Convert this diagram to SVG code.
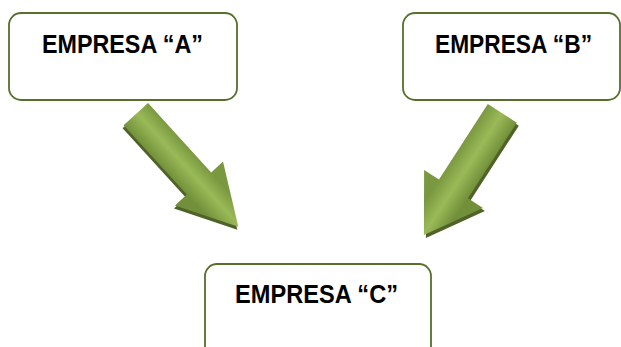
<svg xmlns="http://www.w3.org/2000/svg" width="621" height="347" viewBox="0 0 621 347">
<style>
.box{fill:#ffffff;stroke:#56702c;stroke-width:1.8}
.lbl{font-family:"Liberation Sans",Arial,sans-serif;font-weight:bold;font-size:25px;fill:#000000;text-anchor:middle}
.shadow{fill:#4f6228}
</style>
<defs>
<linearGradient id="gA" gradientUnits="userSpaceOnUse" x1="123.6" y1="125.3" x2="148.0" y2="103.1">
<stop offset="0" stop-color="#72903a"/>
<stop offset="0.55" stop-color="#9aba58"/>
<stop offset="1" stop-color="#7a9840"/>
</linearGradient>
<linearGradient id="gB" gradientUnits="userSpaceOnUse" x1="487.8" y1="103.9" x2="516.8" y2="122.7">
<stop offset="0" stop-color="#7a9840"/>
<stop offset="0.5" stop-color="#9aba58"/>
<stop offset="1" stop-color="#72903a"/>
</linearGradient>
</defs>
<rect width="621" height="347" fill="#ffffff"/>
<g id="connectors">
<g id="arrowA">
<polygon class="shadow" transform="translate(-1,3)" points="123.6,125.3 148.0,103.1 211.2,172.4 223.0,161.6 238.3,226.7 175.0,205.4 186.8,194.6"/>
<polygon fill="url(#gA)" points="123.6,125.3 148.0,103.1 211.2,172.4 223.0,161.6 238.3,226.7 175.0,205.4 186.8,194.6"/>
</g>
<g id="arrowB">
<polygon class="shadow" transform="translate(2,3)" points="487.8,103.9 516.8,122.7 468.0,198.3 482.9,207.9 423.9,234.9 424.1,169.9 439.0,179.5"/>
<polygon fill="url(#gB)" points="487.8,103.9 516.8,122.7 468.0,198.3 482.9,207.9 423.9,234.9 424.1,169.9 439.0,179.5"/>
</g>
</g>
<g id="nodeA">
<rect class="box" x="9" y="13" width="228" height="87" rx="12"/>
<text class="lbl" x="122.5" y="53" textLength="161" lengthAdjust="spacingAndGlyphs">EMPRESA “A”</text>
</g>
<g id="nodeB">
<rect class="box" x="403" y="13" width="217" height="87" rx="12"/>
<text class="lbl" x="513.5" y="53" textLength="157" lengthAdjust="spacingAndGlyphs">EMPRESA “B”</text>
</g>
<g id="nodeC">
<rect class="box" x="205" y="264" width="226" height="95" rx="12"/>
<text class="lbl" x="316.5" y="303" textLength="163" lengthAdjust="spacingAndGlyphs">EMPRESA “C”</text>
</g>
</svg>
